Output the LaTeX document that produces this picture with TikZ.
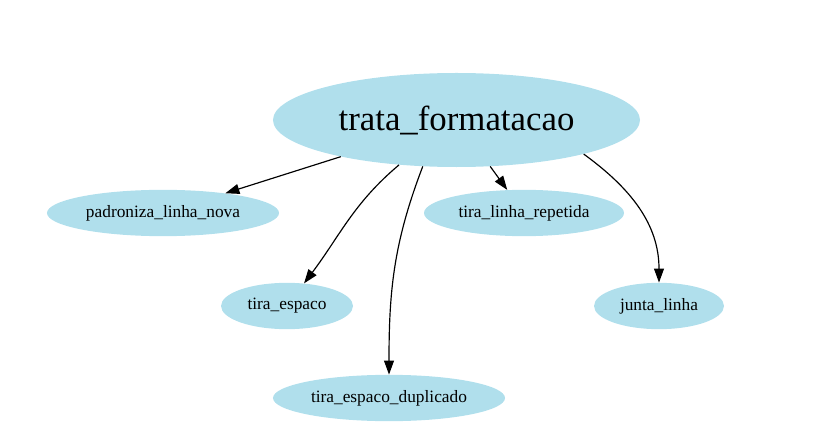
\documentclass[tikz,border=0pt]{standalone}
\usepackage{fontspec}
\setmainfont{Liberation Serif}
\usepackage{tikz}
\usetikzlibrary{shapes.geometric, arrows.meta}
\definecolor{funcblue}{RGB}{176,223,236}

\begin{document}
\begin{tikzpicture}[
x=0.03cm,
y=0.03cm,
func/.style={
ellipse,
fill=funcblue,
inner sep=0pt,
minimum height=1.39cm,
font=\fontsize{14.8}{17}\selectfont
},
arrow/.style={
-{Triangle[length=12pt,width=8.5pt]},
line width=1pt
}
]
\useasboundingbox (0,0) rectangle (814,-428);

\node[func, minimum width=11.01cm, minimum height=2.82cm, font=\fontsize{29.7}{34}\selectfont] (trata) at (456.5,-120) {trata\_formatacao};
\node[func, minimum width=6.96cm] (padroniza) at (163,-213) {padroniza\_linha\_nova};
\node[func, minimum width=6.0cm] (repetida) at (524,-213) {tira\_linha\_repetida};
\node[func, minimum width=3.96cm] (espaco) at (287,-306) {tira\_espaco};
\node[func, minimum width=3.9cm] (junta) at (659,-306) {junta\_linha};
\node[func, minimum width=6.96cm] (duplicado) at (389,-398) {tira\_espaco\_duplicado};

\draw[arrow] (trata) -- (padroniza);
\draw[arrow] (trata) -- (repetida);
\draw[arrow] (trata.-142) to[out=-140, in=53] (espaco);
\draw[arrow] (trata.-126) to[out=-111, in=90] (duplicado);
\draw[arrow] (trata.-15) to[out=-36, in=90] (junta);

\end{tikzpicture}
\end{document}
